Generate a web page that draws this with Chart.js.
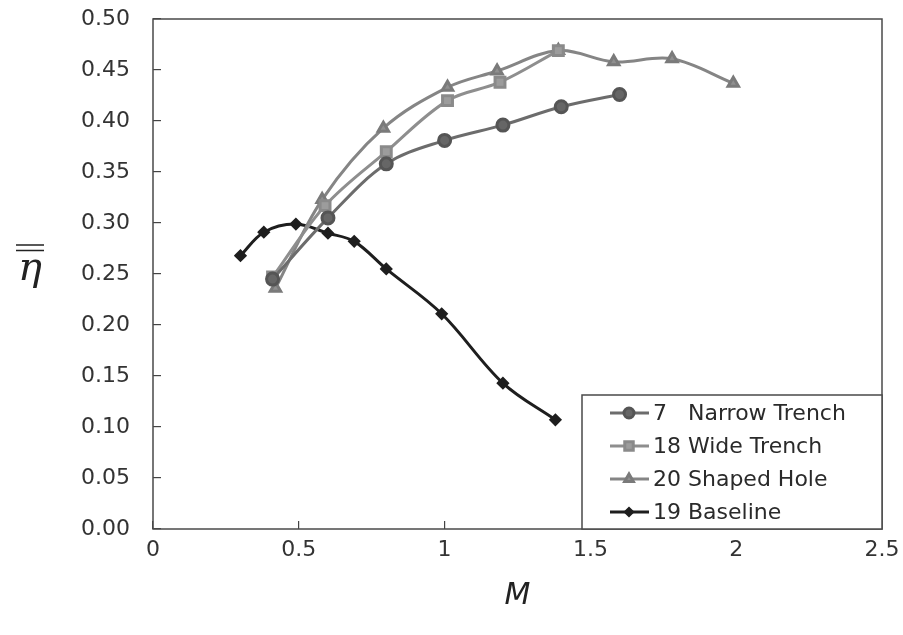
<!DOCTYPE html>
<html>
<head>
<meta charset="utf-8">
<script src="https://cdn.jsdelivr.net/npm/chart.js@4.4.1/dist/chart.umd.min.js"></script>
<style>
html, body { margin: 0; padding: 0; background: #fff; }
.grafik { width: 903px; height: 635px; position: relative; }
</style>
</head>
<body>
<div class="grafik"><canvas id="myChart"></canvas></div>
<script>
// data
var xNarrow = [0.41, 0.60, 0.80, 1.00, 1.20, 1.40, 1.60];
var yNarrow = [0.245, 0.305, 0.358, 0.381, 0.396, 0.414, 0.426];

var xWide = [0.41, 0.59, 0.80, 1.01, 1.19, 1.39];
var yWide = [0.247, 0.317, 0.370, 0.420, 0.438, 0.469];

var xShaped = [0.42, 0.58, 0.79, 1.01, 1.18, 1.39, 1.58, 1.78, 1.99];
var yShaped = [0.236, 0.323, 0.393, 0.433, 0.449, 0.469, 0.458, 0.461, 0.437];

var xBase = [0.30, 0.38, 0.49, 0.60, 0.69, 0.80, 0.99, 1.20, 1.38];
var yBase = [0.268, 0.291, 0.299, 0.290, 0.282, 0.255, 0.211, 0.143, 0.107];

var seriesLabels = ['7   Narrow Trench', '18 Wide Trench', '20 Shaped Hole', '19 Baseline'];
var xTicks = [0, 0.5, 1, 1.5, 2, 2.5];
var yTicks = [0, 0.05, 0.1, 0.15, 0.2, 0.25, 0.3, 0.35, 0.4, 0.45, 0.5];

function pts(xs, ys) {
	return xs.map(function(x, i){ return {x: x, y: ys[i]}; });
}

var FONT = "'DejaVu Sans', 'Liberation Sans', Arial, sans-serif";

// box round the plot, legend inside it, eta label
var extras = {
	id: 'extras',
	afterDraw: function(chart) {
		var ctx = chart.ctx, a = chart.chartArea;
		ctx.save();
		ctx.strokeStyle = '#4a4a4a';
		ctx.lineWidth = 1.5;
		ctx.strokeRect(a.left, a.top, a.right - a.left, a.bottom - a.top);

		// legend
		var lx = 582, ly = 395, lw = a.right - lx, lh = a.bottom - ly;
		ctx.fillStyle = '#fff';
		ctx.fillRect(lx, ly, lw, lh);
		ctx.strokeRect(lx, ly, lw, lh);
		ctx.font = '22px ' + FONT;
		ctx.textBaseline = 'middle';
		ctx.textAlign = 'left';
		chart.data.datasets.forEach(function(ds, i){
			var y = 413 + i * 33;
			ctx.strokeStyle = ds.borderColor;
			ctx.lineWidth = ds.borderWidth;
			ctx.beginPath();
			ctx.moveTo(610, y);
			ctx.lineTo(649, y);
			ctx.stroke();
			ctx.fillStyle = ds.pointBackgroundColor;
			ctx.strokeStyle = ds.pointBorderColor;
			if (Chart.helpers && Chart.helpers.drawPoint) {
				Chart.helpers.drawPoint(ctx, {pointStyle: ds.pointStyle, radius: ds.pointRadius - 1, rotation: 0, borderWidth: 1}, 629, y);
			}
			ctx.fillStyle = '#2a2a2a';
			ctx.fillText(ds.label, 653, y + 1);
		});

		// y title: eta with double bar
		ctx.fillStyle = '#222';
		ctx.font = 'italic 40px "DejaVu Serif", "Liberation Serif", serif';
		ctx.textAlign = 'center';
		ctx.textBaseline = 'alphabetic';
		ctx.fillText('\u03B7', 30, 280);
		ctx.strokeStyle = '#222';
		ctx.lineWidth = 1.6;
		ctx.beginPath();
		ctx.moveTo(16, 245); ctx.lineTo(44, 245);
		ctx.moveTo(16, 250.5); ctx.lineTo(44, 250.5);
		ctx.stroke();
		ctx.restore();
	}
};

var ctx = document.getElementById('myChart').getContext('2d');
var chart = new Chart(ctx, {
	type: 'line',
	data: {
		datasets: [{
			label: seriesLabels[0],
			data: pts(xNarrow, yNarrow),
			borderColor: '#6c6c6c',
			pointBackgroundColor: '#666',
			pointBorderColor: '#555',
			pointStyle: 'circle',
			pointRadius: 6,
			borderWidth: 3
		}, {
			label: seriesLabels[1],
			data: pts(xWide, yWide),
			borderColor: '#8e8e8e',
			pointBackgroundColor: '#9c9c9c',
			pointBorderColor: '#8a8a8a',
			pointStyle: 'rect',
			pointRadius: 7,
			borderWidth: 3
		}, {
			label: seriesLabels[2],
			data: pts(xShaped, yShaped),
			borderColor: '#858585',
			pointBackgroundColor: '#8f8f8f',
			pointBorderColor: '#7a7a7a',
			pointStyle: 'triangle',
			pointRadius: 6,
			borderWidth: 3
		}, {
			label: seriesLabels[3],
			data: pts(xBase, yBase),
			borderColor: '#1e1e1e',
			pointBackgroundColor: '#1e1e1e',
			pointBorderColor: '#1e1e1e',
			pointStyle: 'rectRot',
			pointRadius: 4.5,
			borderWidth: 3
		}]
	},
	options: {
		responsive: true,
		maintainAspectRatio: false,
		animation: false,
		layout: { padding: { left: 0, right: 21, top: 19, bottom: 0 } },
		elements: { line: { tension: 0.35 } },
		plugins: {
			legend: { display: false },
			tooltip: { enabled: false }
		},
		scales: {
			x: {
				type: 'linear',
				min: 0, max: 2.5,
				afterBuildTicks: function(s){ s.ticks = xTicks.map(function(v){ return {value: v}; }); },
				afterFit: function(s){ s.height = 106; s.paddingLeft = 0; s.paddingRight = 0; },
				border: { display: false },
				grid: { drawOnChartArea: false, tickLength: -8, color: '#444', lineWidth: 1.2 },
				ticks: {
					padding: 16, color: '#333',
					font: { family: FONT, size: 22 },
					maxRotation: 0,
					callback: function(v){ return String(v); }
				},
				title: {
					display: true, text: 'M', color: '#222',
					font: { family: FONT, size: 30, style: 'italic' },
					padding: { top: 0, bottom: 21 }
				}
			},
			y: {
				min: 0, max: 0.5,
				afterBuildTicks: function(s){ s.ticks = yTicks.map(function(v){ return {value: v}; }); },
				afterFit: function(s){ s.width = 153; s.paddingTop = 0; s.paddingBottom = 0; },
				border: { display: false },
				grid: { drawOnChartArea: false, tickLength: -8, color: '#444', lineWidth: 1.2 },
				ticks: {
					padding: 31, color: '#333',
					font: { family: FONT, size: 22 },
					callback: function(v){ return v.toFixed(2); }
				}
			}
		}
	},
	plugins: [extras]
});
</script>
</body>
</html>
